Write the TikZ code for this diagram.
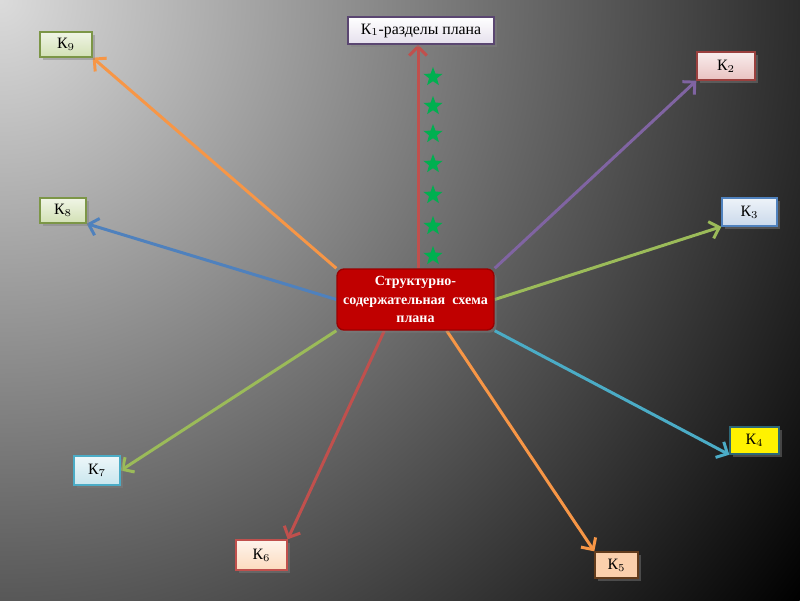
\documentclass[tikz,border=0pt]{standalone}
\usepackage{fontspec}
\setmainfont{Liberation Serif}
\usetikzlibrary{arrows.meta,shapes.geometric,shadows,backgrounds}

\definecolor{planred}{HTML}{C00000}
\definecolor{linered}{HTML}{C0504D}
\definecolor{linepurple}{HTML}{8064A2}
\definecolor{linegreen}{HTML}{9BBB59}
\definecolor{lineteal}{HTML}{4BACC6}
\definecolor{lineorange}{HTML}{F79646}
\definecolor{lineblue}{HTML}{4F81BD}
\definecolor{stargreen}{HTML}{00B050}

\tikzset{
  kbox/.style={draw, line width=0.8pt, inner sep=0pt,
    font=\fontsize{9}{10}\selectfont,
    drop shadow={shadow xshift=1.5pt, shadow yshift=-1.5pt, opacity=0.45}},
  link/.style={line width=1.7pt, -{Straight Barb[length=5pt,width=10pt]}},
  greenstar/.style={star, star points=5, star point ratio=2.4,
    fill=stargreen, inner sep=0pt, minimum size=0.4cm},
}

\begin{document}
\begin{tikzpicture}[x=0.02cm, y=-0.02cm]
    \useasboundingbox (0,0) rectangle (800,600);

    % plan
    \node[kbox, fill=planred, draw=planred!80!black, rounded corners=4pt,
        minimum width=3.14cm, minimum height=1.22cm, text=white,
        font=\fontsize{8}{10.5}\selectfont\bfseries, align=center]
        (plan) at (415.5,299.5) {Структурно-\\содержательная\ \ схема\\плана};

    % parts of the plan
    \node[kbox, top color=white, bottom color=linepurple!20, draw=linepurple!70!black,
        minimum width=2.92cm, minimum height=0.54cm] (k1) at (421,30.5) {К$_1$-разделы плана};
    \node[kbox, top color=linered!10, bottom color=linered!35, draw=linered!80!black,
        minimum width=1.16cm, minimum height=0.56cm] (k2) at (726,66) {К$_2$};
    \node[kbox, top color=lineblue!10, bottom color=lineblue!30, draw=lineblue,
        minimum width=1.1cm, minimum height=0.56cm] (k3) at (749.5,212) {К$_3$};
    \node[kbox, fill=yellow, draw=lineteal!60!black,
        minimum width=0.98cm, minimum height=0.54cm] (k4) at (754.5,440.5) {К$_4$};
    \node[kbox, fill=lineorange!45, draw=lineorange!40!black,
        minimum width=0.86cm, minimum height=0.52cm] (k5) at (616.5,565) {К$_5$};
    \node[kbox, top color=lineorange!10, bottom color=lineorange!35, draw=linered,
        minimum width=1.02cm, minimum height=0.6cm] (k6) at (261.5,555) {К$_6$};
    \node[kbox, top color=lineteal!10, bottom color=lineteal!30, draw=lineteal,
        minimum width=0.92cm, minimum height=0.58cm] (k7) at (97,470.5) {К$_7$};
    \node[kbox, top color=linegreen!15, bottom color=linegreen!45, draw=linegreen!80!black,
        minimum width=0.92cm, minimum height=0.5cm] (k8) at (63,210.5) {К$_8$};
    \node[kbox, top color=linegreen!15, bottom color=linegreen!45, draw=linegreen!80!black,
        minimum width=1.04cm, minimum height=0.5cm] (k9) at (66,44.5) {К$_9$};

    % stars
    \foreach \y [count=\i] in {77,106,134,164,195,226,256}
        \node[greenstar] (star\i) at (433,\y) {};

    \begin{scope}[on background layer]
    \clip (0,0) rectangle (800,600);
    \shade[inner color=black!14, outer color=black] (0,0) circle (1000);
    % links
    \draw[link, linered] ([xshift=0.05cm]plan.north) -- ([xshift=0.05cm]plan.north |- k1.south);
    \draw[link, linepurple] (plan.north east) -- (k2.south west);
    \draw[link, linegreen] (plan.east) -- (k3.south west);
    \draw[link, lineteal] (plan.south east) -- (k4.south west);
    \draw[link, lineorange] (plan.-45) -- (k5.north west);
    \draw[link, linered] (plan.-135) -- (k6.north east);
    \draw[link, linegreen] (plan.south west) -- (k7.east);
    \draw[link, lineblue] (plan.west) -- (k8.south east);
    \draw[link, lineorange] (plan.north west) -- (k9.south east);
    \end{scope}
\end{tikzpicture}
\end{document}
